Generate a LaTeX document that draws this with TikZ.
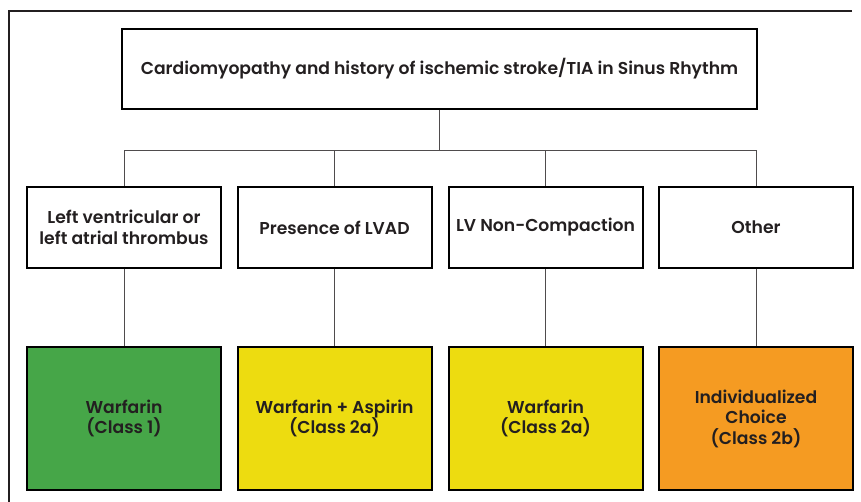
\documentclass[tikz,border=0pt]{standalone}
\usepackage{fontspec}
\setmainfont{Poppins}[UprightFont={* SemiBold},BoldFont={* Bold}]
\usepackage{xcolor}
\definecolor{inkdark}{HTML}{231F20}
\definecolor{boxgreen}{HTML}{46A648}
\definecolor{boxyellow}{HTML}{EDDC10}
\definecolor{boxorange}{HTML}{F59B22}

\begin{document}
\begin{tikzpicture}[x=1pt,y=-1pt,
  box/.style={draw=black,line width=2pt,align=center,text=inkdark,font=\fontsize{17.2}{20.5}\selectfont,inner sep=0pt},
  cond/.style={box,minimum width=194pt,minimum height=81pt},
  rec/.style={box,minimum width=194pt,minimum height=143pt},
  link/.style={draw=inkdark!80,line width=0.8pt}]
\useasboundingbox (0,0) rectangle (861,502);
\draw[line width=2pt,inkdark] (852,11) -- (9,11) -- (9,502);
\node[box,minimum width=635pt,minimum height=80pt] (top) at (439.5,69) {Cardiomyopathy and history of ischemic stroke/TIA in Sinus Rhythm};
\coordinate (bus) at (439.5,150);
\node[cond] (m1) at (124,227.5) {Left ventricular or\\left atrial thrombus};
\node[cond] (m2) at (334.5,227.5) {Presence of LVAD};
\node[cond] (m3) at (545.5,227.5) {LV Non-Compaction};
\node[cond] (m4) at (756,227.5) {Other};
\node[rec,fill=boxgreen] (b1) at (124,418.5) {Warfarin\\(Class 1)};
\node[rec,fill=boxyellow] (b2) at (334.5,418.5) {Warfarin + Aspirin\\(Class 2a)};
\node[rec,fill=boxyellow] (b3) at (545.5,418.5) {Warfarin\\(Class 2a)};
\node[rec,fill=boxorange] (b4) at (756,418.5) {Individualized\\Choice\\(Class 2b)};
\draw[link] (top.south) -- (bus);
\foreach \i in {1,...,4} {
  \draw[link] (m\i.north) |- (bus);
  \draw[link] (m\i.south) -- (b\i.north);
}
\end{tikzpicture}
\end{document}
